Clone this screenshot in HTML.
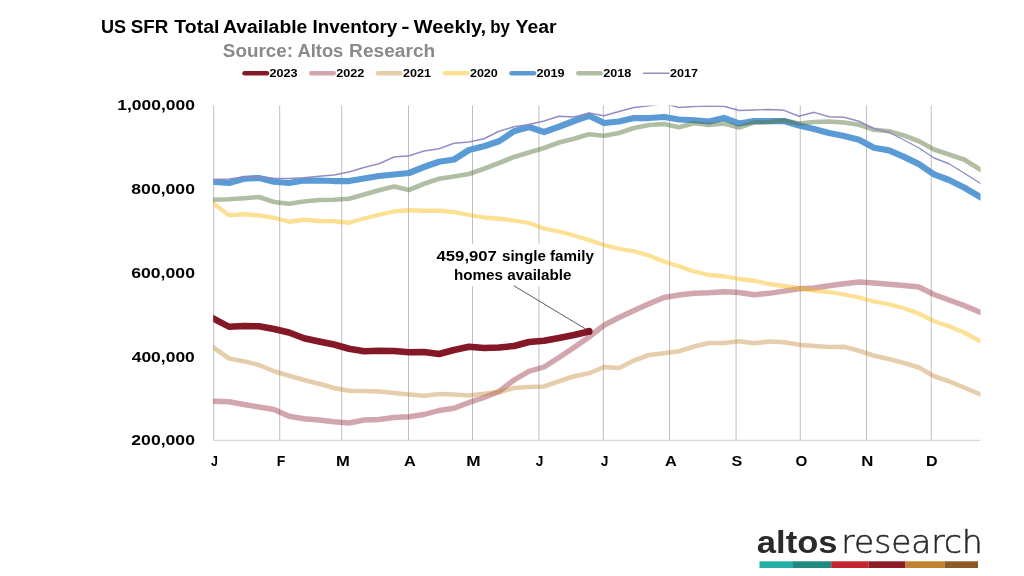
<!DOCTYPE html>
<html lang="en"><head><meta charset="utf-8"><title>US SFR Total Available Inventory - Weekly, by Year</title>
<style>html,body{margin:0;padding:0;background:#fff}body{width:1024px;height:576px;overflow:hidden}svg{display:block}text{font-family:"Liberation Sans",sans-serif;font-weight:bold;fill:#000}.lg{font-size:10.6px}.ya{font-size:14.5px}.xa{font-size:14px}</style></head><body>
<svg width="1024" height="576" viewBox="0 0 1024 576">
<rect width="1024" height="576" fill="#fff"/>
<line x1="244.50" y1="73.25" x2="267.00" y2="73.25" stroke="#841827" stroke-opacity="1.00" stroke-width="4.50" stroke-linecap="round"/>
<line x1="311.25" y1="73.25" x2="333.75" y2="73.25" stroke="#8b1a2b" stroke-opacity="0.39" stroke-width="4.50" stroke-linecap="round"/>
<line x1="378.00" y1="73.25" x2="400.50" y2="73.25" stroke="#c08430" stroke-opacity="0.40" stroke-width="4.50" stroke-linecap="round"/>
<line x1="444.65" y1="73.25" x2="467.35" y2="73.25" stroke="#f8b800" stroke-opacity="0.42" stroke-width="4.30" stroke-linecap="round"/>
<line x1="511.50" y1="73.25" x2="534.00" y2="73.25" stroke="#5b9bd5" stroke-opacity="1.00" stroke-width="4.50" stroke-linecap="round"/>
<line x1="578.25" y1="73.25" x2="600.75" y2="73.25" stroke="#4f6f35" stroke-opacity="0.45" stroke-width="4.50" stroke-linecap="round"/>
<line x1="643.45" y1="73.25" x2="669.05" y2="73.25" stroke="#8b88c2" stroke-opacity="0.95" stroke-width="1.40" stroke-linecap="round"/>
<line x1="213.70" y1="105.5" x2="213.70" y2="440.4" stroke="#bfbfbf" stroke-width="1"/>
<line x1="279.70" y1="105.5" x2="279.70" y2="440.4" stroke="#bfbfbf" stroke-width="1"/>
<line x1="341.70" y1="105.5" x2="341.70" y2="440.4" stroke="#bfbfbf" stroke-width="1"/>
<line x1="408.50" y1="105.5" x2="408.50" y2="440.4" stroke="#bfbfbf" stroke-width="1"/>
<line x1="472.50" y1="105.5" x2="472.50" y2="440.4" stroke="#bfbfbf" stroke-width="1"/>
<line x1="538.95" y1="105.5" x2="538.95" y2="440.4" stroke="#bfbfbf" stroke-width="1"/>
<line x1="603.35" y1="105.5" x2="603.35" y2="440.4" stroke="#bfbfbf" stroke-width="1"/>
<line x1="669.50" y1="105.5" x2="669.50" y2="440.4" stroke="#bfbfbf" stroke-width="1"/>
<line x1="736.05" y1="105.5" x2="736.05" y2="440.4" stroke="#bfbfbf" stroke-width="1"/>
<line x1="800.25" y1="105.5" x2="800.25" y2="440.4" stroke="#bfbfbf" stroke-width="1"/>
<line x1="866.50" y1="105.5" x2="866.50" y2="440.4" stroke="#bfbfbf" stroke-width="1"/>
<line x1="931.20" y1="105.5" x2="931.20" y2="440.4" stroke="#bfbfbf" stroke-width="1"/>
<line x1="213.2" y1="440.4" x2="980" y2="440.4" stroke="#d6d6d6" stroke-width="1.1"/>
<rect x="430" y="243.8" width="168" height="42.4" fill="#fff"/>
<defs><clipPath id="pc"><rect x="213.2" y="105.6" width="767.3" height="340"/></clipPath></defs>
<g clip-path="url(#pc)" fill="none" stroke-linejoin="round">
<polyline points="199.0,310.75 214.0,318.75 229.0,326.75 244.0,326.00 259.0,326.25 274.0,329.00 289.0,332.50 304.0,338.25 319.0,341.50 334.0,344.50 349.0,348.75 364.0,351.25 379.0,350.75 394.0,351.00 409.0,352.25 424.0,352.00 439.0,354.00 454.0,350.00 469.0,346.75 484.0,348.00 499.0,347.50 514.0,346.00 529.0,342.00 544.0,340.75 559.0,338.00 574.0,335.00 589.0,331.50" stroke="#841827" stroke-opacity="1.00" stroke-width="6.50" stroke-linecap="round"/>
<polyline points="199.0,400.75 214.0,401.25 229.0,401.75 244.0,404.50 259.0,407.00 274.0,409.50 289.0,416.25 304.0,418.75 319.0,420.00 334.0,421.75 349.0,423.00 364.0,420.00 379.0,419.50 394.0,417.50 409.0,416.75 424.0,414.50 439.0,410.50 454.0,408.25 469.0,402.50 484.0,397.50 499.0,391.50 514.0,380.00 529.0,371.25 544.0,367.00 559.0,357.50 574.0,347.50 589.0,337.00 604.0,325.25 619.0,317.50 634.0,310.50 649.0,303.75 664.0,297.50 679.0,295.00 694.0,293.25 709.0,292.75 724.0,291.75 739.0,292.50 754.0,294.75 769.0,293.30 784.0,291.20 799.0,288.75 814.0,288.00 829.0,285.75 844.0,283.75 859.0,282.00 874.0,283.00 889.0,284.25 904.0,285.50 919.0,287.00 934.0,294.50 949.0,300.00 964.0,305.50 979.0,311.75 994.0,318.00" stroke="#8b1a2b" stroke-opacity="0.39" stroke-width="5.40" stroke-linecap="butt"/>
<polyline points="199.0,337.50 214.0,348.00 229.0,358.50 244.0,361.25 259.0,365.00 274.0,371.25 289.0,375.75 304.0,380.00 319.0,383.75 334.0,388.00 349.0,390.75 364.0,391.00 379.0,391.50 394.0,393.00 409.0,394.50 424.0,395.75 439.0,394.00 454.0,394.50 469.0,395.50 484.0,393.75 499.0,392.00 514.0,388.00 529.0,387.00 544.0,386.50 559.0,381.25 574.0,376.25 589.0,373.25 604.0,367.00 619.0,368.00 634.0,360.50 649.0,355.00 664.0,353.25 679.0,351.25 694.0,346.50 709.0,343.00 724.0,343.00 739.0,341.25 754.0,343.25 769.0,341.50 784.0,342.25 799.0,344.75 814.0,346.00 829.0,347.00 844.0,346.75 859.0,350.75 874.0,355.75 889.0,359.00 904.0,363.00 919.0,367.50 934.0,376.25 949.0,381.25 964.0,387.50 979.0,393.75 994.0,400.00" stroke="#c08430" stroke-opacity="0.40" stroke-width="4.60" stroke-linecap="butt"/>
<polyline points="199.0,192.75 214.0,204.00 229.0,215.25 244.0,214.25 259.0,215.50 274.0,217.75 289.0,221.75 304.0,219.75 319.0,221.00 334.0,221.25 349.0,222.75 364.0,218.50 379.0,214.75 394.0,211.50 409.0,210.25 424.0,210.75 439.0,210.75 454.0,212.00 469.0,215.00 484.0,217.50 499.0,218.75 514.0,220.50 529.0,223.00 544.0,228.50 559.0,231.50 574.0,235.50 589.0,240.00 604.0,245.00 619.0,248.75 634.0,251.25 649.0,255.50 664.0,261.50 679.0,266.25 694.0,271.50 709.0,275.00 724.0,276.25 739.0,279.00 754.0,280.75 769.0,284.00 784.0,286.00 799.0,288.20 814.0,290.75 829.0,292.00 844.0,294.50 859.0,297.50 874.0,301.50 889.0,304.25 904.0,308.25 919.0,313.75 934.0,321.25 949.0,326.25 964.0,332.50 979.0,340.50 994.0,348.50" stroke="#f8b800" stroke-opacity="0.42" stroke-width="4.30" stroke-linecap="butt"/>
<polyline points="199.0,181.00 214.0,182.00 229.0,183.00 244.0,178.75 259.0,178.00 274.0,181.75 289.0,183.00 304.0,180.50 319.0,180.50 334.0,181.00 349.0,181.00 364.0,178.50 379.0,176.00 394.0,174.50 409.0,173.00 424.0,167.00 439.0,161.75 454.0,159.50 469.0,150.00 484.0,146.25 499.0,141.25 514.0,131.25 529.0,127.00 544.0,132.00 559.0,126.75 574.0,121.00 589.0,115.75 604.0,123.00 619.0,121.50 634.0,118.00 649.0,118.00 664.0,117.00 679.0,119.50 694.0,120.25 709.0,121.50 724.0,118.00 739.0,123.50 754.0,121.00 769.0,121.00 784.0,121.00 799.0,125.50 814.0,129.00 829.0,133.00 844.0,136.00 859.0,139.75 874.0,147.75 889.0,150.40 904.0,156.90 919.0,164.10 934.0,174.30 949.0,180.00 964.0,187.50 979.0,196.25 994.0,205.00" stroke="#5b9bd5" stroke-opacity="1.00" stroke-width="6.25" stroke-linecap="butt"/>
<polyline points="199.0,200.25 214.0,199.75 229.0,199.25 244.0,198.25 259.0,197.00 274.0,202.00 289.0,203.75 304.0,201.50 319.0,200.00 334.0,199.75 349.0,198.75 364.0,194.50 379.0,190.25 394.0,186.50 409.0,190.00 424.0,183.75 439.0,178.75 454.0,176.50 469.0,174.00 484.0,168.75 499.0,163.00 514.0,157.00 529.0,152.50 544.0,148.00 559.0,142.50 574.0,138.75 589.0,134.25 604.0,135.75 619.0,133.00 634.0,128.00 649.0,125.00 664.0,124.00 679.0,127.25 694.0,123.25 709.0,125.00 724.0,123.50 739.0,127.50 754.0,122.50 769.0,122.00 784.0,120.50 799.0,123.50 814.0,122.00 829.0,121.50 844.0,122.50 859.0,124.75 874.0,129.75 889.0,131.25 904.0,135.50 919.0,141.25 934.0,149.50 949.0,154.50 964.0,159.50 979.0,168.75 994.0,178.00" stroke="#4f6f35" stroke-opacity="0.45" stroke-width="4.70" stroke-linecap="butt"/>
<polyline points="199.0,180.00 214.0,179.50 229.0,179.00 244.0,177.00 259.0,176.50 274.0,178.25 289.0,178.50 304.0,177.75 319.0,176.25 334.0,175.00 349.0,172.00 364.0,167.50 379.0,163.75 394.0,157.00 409.0,155.75 424.0,151.00 439.0,148.75 454.0,143.25 469.0,142.00 484.0,138.75 499.0,131.25 514.0,126.75 529.0,124.50 544.0,121.00 559.0,116.25 574.0,117.00 589.0,113.00 604.0,115.75 619.0,111.50 634.0,107.50 649.0,105.90 664.0,103.40 679.0,107.50 694.0,106.50 709.0,106.00 724.0,106.25 739.0,110.50 754.0,110.00 769.0,109.50 784.0,110.30 799.0,116.25 814.0,112.30 829.0,116.75 844.0,117.25 859.0,121.25 874.0,128.75 889.0,132.25 904.0,140.00 919.0,148.00 934.0,158.00 949.0,163.75 964.0,173.00 979.0,182.50 994.0,192.00" stroke="#8b88c2" stroke-opacity="0.95" stroke-width="1.40" stroke-linecap="butt"/>
</g>
<circle cx="588.9" cy="331.4" r="3.7" fill="#7c1523"/>
<line x1="513.8" y1="285.7" x2="586.6" y2="329.6" stroke="#3c3c3c" stroke-width="0.85"/>
<text font-size="18"><tspan x="100.90" y="32.70" textLength="25.10" lengthAdjust="spacingAndGlyphs">US</tspan> <tspan x="130.73" y="32.70" textLength="37.55" lengthAdjust="spacingAndGlyphs">SFR</tspan> <tspan x="174.34" y="32.70" textLength="45.05" lengthAdjust="spacingAndGlyphs">Total</tspan> <tspan x="223.05" y="32.70" textLength="84.32" lengthAdjust="spacingAndGlyphs">Available</tspan> <tspan x="312.43" y="32.70" textLength="84.91" lengthAdjust="spacingAndGlyphs">Inventory</tspan> <tspan x="401.29" y="32.70" textLength="8.31" lengthAdjust="spacingAndGlyphs">-</tspan> <tspan x="413.84" y="32.70" textLength="72.29" lengthAdjust="spacingAndGlyphs">Weekly,</tspan> <tspan x="490.15" y="32.70" textLength="19.67" lengthAdjust="spacingAndGlyphs">by</tspan> <tspan x="515.59" y="32.70" textLength="40.96" lengthAdjust="spacingAndGlyphs">Year</tspan></text>
<text font-size="18" style="fill:#8a8a8a;"><tspan x="222.85" y="57.20" textLength="70.10" lengthAdjust="spacingAndGlyphs">Source:</tspan> <tspan x="297.44" y="57.20" textLength="45.87" lengthAdjust="spacingAndGlyphs">Altos</tspan> <tspan x="349.09" y="57.20" textLength="86.13" lengthAdjust="spacingAndGlyphs">Research</tspan></text>
<text x="269.45" y="76.60" font-size="10.6" textLength="28.12" lengthAdjust="spacingAndGlyphs">2023</text>
<text x="336.20" y="76.60" font-size="10.6" textLength="28.17" lengthAdjust="spacingAndGlyphs">2022</text>
<text x="402.97" y="76.60" font-size="10.6" textLength="27.92" lengthAdjust="spacingAndGlyphs">2021</text>
<text x="469.91" y="76.60" font-size="10.6" textLength="27.94" lengthAdjust="spacingAndGlyphs">2020</text>
<text x="536.44" y="76.60" font-size="10.6" textLength="28.23" lengthAdjust="spacingAndGlyphs">2019</text>
<text x="603.21" y="76.60" font-size="10.6" textLength="28.00" lengthAdjust="spacingAndGlyphs">2018</text>
<text x="669.95" y="76.60" font-size="10.6" textLength="28.07" lengthAdjust="spacingAndGlyphs">2017</text>
<text x="117.30" y="110.40" font-size="14.4" textLength="77.74" lengthAdjust="spacingAndGlyphs">1,000,000</text>
<text x="131.33" y="194.15" font-size="14.4" textLength="63.63" lengthAdjust="spacingAndGlyphs">800,000</text>
<text x="131.21" y="277.90" font-size="14.4" textLength="63.75" lengthAdjust="spacingAndGlyphs">600,000</text>
<text x="131.67" y="361.65" font-size="14.4" textLength="63.21" lengthAdjust="spacingAndGlyphs">400,000</text>
<text x="131.30" y="445.40" font-size="14.4" textLength="63.65" lengthAdjust="spacingAndGlyphs">200,000</text>
<text font-size="14"><tspan x="210.91" y="465.60" textLength="6.93" lengthAdjust="spacingAndGlyphs">J</tspan> <tspan x="276.73" y="465.60" textLength="8.58" lengthAdjust="spacingAndGlyphs">F</tspan> <tspan x="335.98" y="465.60" textLength="13.81" lengthAdjust="spacingAndGlyphs">M</tspan> <tspan x="403.99" y="465.60" textLength="11.22" lengthAdjust="spacingAndGlyphs">A</tspan> <tspan x="466.37" y="465.60" textLength="14.34" lengthAdjust="spacingAndGlyphs">M</tspan> <tspan x="535.76" y="465.60" textLength="7.65" lengthAdjust="spacingAndGlyphs">J</tspan> <tspan x="600.76" y="465.60" textLength="7.65" lengthAdjust="spacingAndGlyphs">J</tspan> <tspan x="664.99" y="465.60" textLength="11.22" lengthAdjust="spacingAndGlyphs">A</tspan> <tspan x="731.43" y="465.60" textLength="10.78" lengthAdjust="spacingAndGlyphs">S</tspan> <tspan x="795.44" y="465.60" textLength="11.81" lengthAdjust="spacingAndGlyphs">O</tspan> <tspan x="861.19" y="465.60" textLength="12.12" lengthAdjust="spacingAndGlyphs">N</tspan> <tspan x="926.13" y="465.60" textLength="11.60" lengthAdjust="spacingAndGlyphs">D</tspan></text>
<text font-size="14.6"><tspan x="436.50" y="261.30" textLength="60.43" lengthAdjust="spacingAndGlyphs">459,907</tspan> <tspan x="501.97" y="261.30" textLength="91.92" lengthAdjust="spacingAndGlyphs">single family</tspan> <tspan x="453.99" y="279.50" textLength="117.56" lengthAdjust="spacingAndGlyphs">homes available</tspan></text>
<text x="756.85" y="552.80" font-size="31.2" textLength="80.68" lengthAdjust="spacingAndGlyphs" style="fill:#2c292a;">altos</text>
<text x="841.35" y="553.00" font-size="31.5" textLength="141.29" lengthAdjust="spacingAndGlyphs" style="fill:#2c292a;font-weight:200;font-family:'DejaVu Sans Light','DejaVu Sans','Liberation Sans',sans-serif;stroke:#2c292a;stroke-width:0.5px;">research</text>
<rect x="759.50" y="561.3" width="33.50" height="6.7" fill="#22b0a4"/>
<rect x="793.00" y="561.3" width="38.25" height="6.7" fill="#1f8a80"/>
<rect x="831.25" y="561.3" width="37.50" height="6.7" fill="#c3262f"/>
<rect x="868.75" y="561.3" width="36.75" height="6.7" fill="#8c1c26"/>
<rect x="905.50" y="561.3" width="39.00" height="6.7" fill="#c08430"/>
<rect x="944.50" y="561.3" width="33.50" height="6.7" fill="#8c5a22"/>
</svg></body></html>
